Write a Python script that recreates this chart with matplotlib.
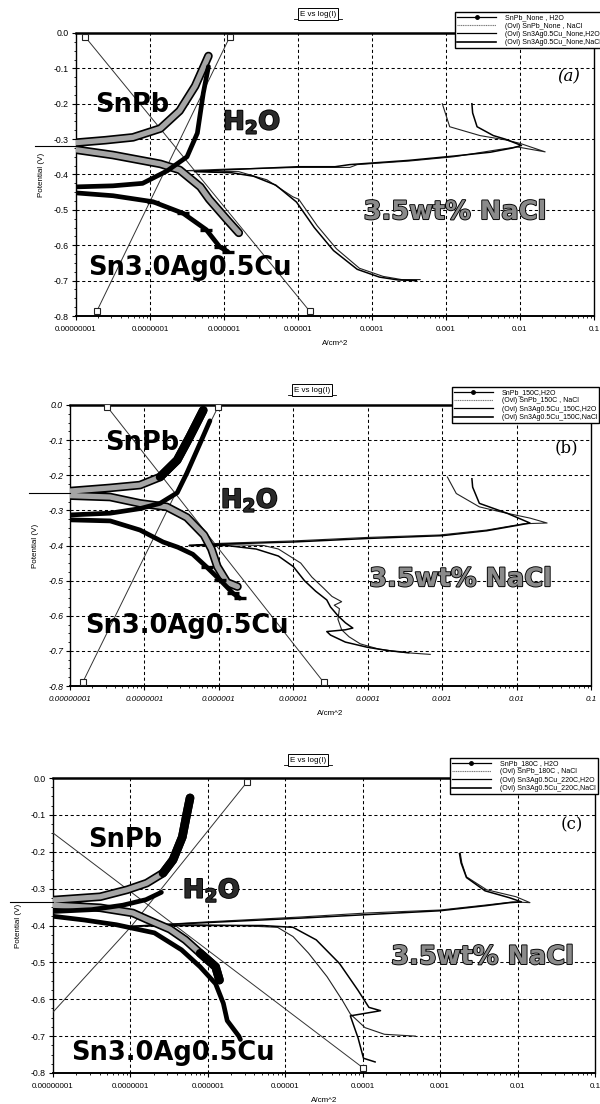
import numpy as np
import matplotlib
matplotlib.use('Agg')
from matplotlib import pyplot as plt
from matplotlib.lines import Line2D
from matplotlib.ticker import FixedLocator, LogLocator, MultipleLocator, NullFormatter
import matplotlib.patheffects as pe

plt.rcParams['font.family'] = ['Liberation Sans', 'DejaVu Sans']

# ---------------- data: log10(A/cm^2) and potential (V) ----------------
# panel (a) - as soldered
a_snpb_h2o_i = [-5.8, -5.95, -6.2, -6.32, -6.6, -6.86, -7.5, -8.0, -8.4, -8.0, -7.6, -7.23, -6.86, -6.6, -6.39, -6.21]
a_snpb_h2o_e = [-0.565, -0.53, -0.47, -0.435, -0.387, -0.37, -0.345, -0.33, -0.32, -0.31, -0.303, -0.295, -0.27, -0.22, -0.15, -0.065]
a_sac_h2o_i = [-5.95, -6.06, -6.24, -6.55, -6.96, -7.5, -8.0, -8.4, -8.0, -7.5, -7.1, -6.77, -6.5, -6.36, -6.28, -6.21]
a_sac_h2o_e = [-0.618, -0.604, -0.556, -0.51, -0.477, -0.46, -0.452, -0.445, -0.435, -0.432, -0.425, -0.39, -0.35, -0.283, -0.17, -0.095]
a_snpb_nacl_i = [-3.35, -3.6, -3.85, -4.17, -4.48, -4.74, -4.99, -5.07, -5.42, -5.8, -6.3, -6.5, -6.0, -5.0, -4.3, -4.2, -3.5,
                 -2.9, -2.3, -2.04, -1.66, -2.0, -2.2, -2.54, -2.95, -3.01, -3.05]
a_snpb_nacl_e = [-0.697, -0.697, -0.688, -0.665, -0.61, -0.545, -0.47, -0.463, -0.415, -0.392, -0.39, -0.389, -0.385, -0.38, -0.38,
                 -0.372, -0.362, -0.35, -0.33, -0.322, -0.336, -0.312, -0.302, -0.29, -0.265, -0.226, -0.2]
a_sac_nacl_i = [-3.4, -3.65, -3.9, -4.2, -4.52, -4.78, -5.02, -5.3, -5.6, -5.9, -6.4, -6.0, -5.0, -4.5, -4.3, -3.5, -2.9,
                -2.4, -2.1, -1.98, -2.2, -2.36, -2.58, -2.64, -2.65]
a_sac_nacl_e = [-0.70, -0.698, -0.69, -0.668, -0.615, -0.55, -0.478, -0.43, -0.405, -0.395, -0.392, -0.387, -0.378, -0.378,
                -0.372, -0.36, -0.348, -0.337, -0.325, -0.318, -0.3, -0.29, -0.265, -0.226, -0.2]
a_tafel1_i = [-7.88, -4.84]
a_tafel1_e = [-0.01, -0.787]
a_tafel2_i = [-7.72, -5.92]
a_tafel2_e = [-0.787, -0.01]

# panel (b) - 150C
b_snpb_h2o_i = [-5.75, -5.89, -6.02, -6.1, -6.2, -6.43, -6.7, -7.06, -7.46, -8.0, -8.4, -8.0, -7.46, -7.06, -6.79, -6.56, -6.39, -6.21]
b_snpb_h2o_e = [-0.517, -0.505, -0.46, -0.41, -0.37, -0.32, -0.29, -0.28, -0.262, -0.258, -0.25, -0.245, -0.236, -0.228, -0.205,
                -0.157, -0.09, -0.015]
b_sac_h2o_i = [-5.72, -5.81, -5.98, -6.16, -6.35, -6.55, -6.75, -7.06, -7.46, -8.0, -8.4, -8.0, -7.46, -7.06, -6.79, -6.56, -6.43,
               -6.25, -6.12]
b_sac_h2o_e = [-0.55, -0.536, -0.499, -0.462, -0.425, -0.405, -0.39, -0.356, -0.33, -0.327, -0.32, -0.313, -0.308, -0.295, -0.28,
               -0.25, -0.194, -0.108, -0.045]
b_snpb_nacl_i = [-3.16, -3.5, -3.85, -4.1, -4.25, -4.35, -4.4, -4.38, -4.45, -4.35, -4.48, -4.6, -4.75, -4.9, -5.05, -5.2, -5.4,
                 -5.8, -6.3, -6.0, -5.0, -4.0, -3.03, -2.4, -1.9, -1.59, -1.82, -2.2, -2.5, -2.81, -2.93]
b_snpb_nacl_e = [-0.71, -0.705, -0.695, -0.68, -0.66, -0.64, -0.61, -0.58, -0.57, -0.56, -0.545, -0.52, -0.49, -0.45, -0.43, -0.41,
                 -0.40, -0.398, -0.398, -0.394, -0.387, -0.377, -0.37, -0.356, -0.338, -0.336, -0.322, -0.305, -0.29, -0.252, -0.205]
b_sac_nacl_i = [-3.45, -3.7, -4.0, -4.3, -4.5, -4.55, -4.3, -4.2, -4.3, -4.4, -4.5, -4.55, -4.7, -4.85, -5.0, -5.2, -5.5, -5.9,
                -6.4, -6.0, -5.0, -4.0, -3.0, -2.4, -2.0, -1.82, -2.13, -2.5, -2.59, -2.6]
b_sac_nacl_e = [-0.705, -0.70, -0.69, -0.675, -0.655, -0.645, -0.64, -0.635, -0.62, -0.60, -0.575, -0.555, -0.53, -0.50, -0.46,
                -0.43, -0.41, -0.40, -0.40, -0.396, -0.39, -0.38, -0.372, -0.358, -0.343, -0.336, -0.308, -0.28, -0.234, -0.21]
b_tafel1_i = [-7.5, -4.59]
b_tafel1_e = [-0.005, -0.79]
b_tafel2_i = [-7.83, -6.01]
b_tafel2_e = [-0.79, -0.005]

# panel (c) - 180C / 220C
c_snpb_h2o_i = [-5.85, -5.9, -6.1, -6.29, -6.49, -6.79, -6.97, -7.39, -8.0, -8.4, -8.0, -7.39, -7.04, -6.79, -6.58, -6.45, -6.33,
                -6.27, -6.23]
c_snpb_h2o_e = [-0.548, -0.512, -0.475, -0.439, -0.41, -0.383, -0.366, -0.352, -0.345, -0.338, -0.331, -0.322, -0.303, -0.285,
                -0.258, -0.222, -0.16, -0.095, -0.054]
c_sac_h2o_i = [-5.58, -5.6, -5.75, -5.8, -5.9, -6.1, -6.34, -6.69, -7.18, -7.6, -8.0, -8.4, -8.0, -7.5, -7.1, -6.8, -6.6]
c_sac_h2o_e = [-0.709, -0.70, -0.658, -0.611, -0.558, -0.512, -0.466, -0.42, -0.398, -0.385, -0.375, -0.365, -0.362, -0.357,
               -0.345, -0.33, -0.31]
c_snpb_nacl_i = [-3.32, -3.72, -3.97, -4.16, -4.26, -4.46, -4.7, -4.9, -5.1, -5.6, -6.2, -6.8, -6.0, -4.81, -3.94, -3.0, -2.39,
                 -2.06, -1.84, -2.02, -2.4, -2.66, -2.72, -2.74]
c_snpb_nacl_e = [-0.70, -0.695, -0.677, -0.64, -0.604, -0.539, -0.475, -0.43, -0.405, -0.40, -0.398, -0.40, -0.39, -0.377, -0.366,
                 -0.358, -0.344, -0.336, -0.338, -0.322, -0.303, -0.268, -0.23, -0.204]
c_sac_nacl_i = [-3.84, -3.99, -4.06, -4.16, -3.85, -3.77, -3.92, -4.06, -4.3, -4.6, -4.9, -5.3, -6.2, -7.0, -6.0, -4.8, -3.9,
                -3.0, -2.4, -2.1, -1.95, -2.1, -2.42, -2.66, -2.73, -2.75]
c_sac_nacl_e = [-0.77, -0.76, -0.705, -0.645, -0.634, -0.631, -0.622, -0.576, -0.503, -0.439, -0.405, -0.40, -0.40, -0.402,
                -0.392, -0.38, -0.37, -0.36, -0.346, -0.338, -0.336, -0.325, -0.306, -0.27, -0.23, -0.205]
c_tafel1_i = [-8.0, -3.99]
c_tafel1_e = [-0.149, -0.787]
c_tafel2_i = [-8.0, -7.0, -5.49]
c_tafel2_e = [-0.635, -0.405, -0.01]

# corrosion-potential leader running left of the axis
tail_i = [-8.55, -8.0]
tail_e = [-0.32, -0.25, -0.336]

legend_a = ['SnPb_None , H2O', '(Ovl) SnPb_None , NaCl', '(Ovl) Sn3Ag0.5Cu_None,H2O', '(Ovl) Sn3Ag0.5Cu_None,NaCl']
legend_b = ['SnPb_150C,H2O', '(Ovl) SnPb_150C , NaCl', '(Ovl) Sn3Ag0.5Cu_150C,H2O', '(Ovl) Sn3Ag0.5Cu_150C,NaCl']
legend_c = ['SnPb_180C , H2O', '(Ovl) SnPb_180C , NaCl', '(Ovl) Sn3Ag0.5Cu_220C,H2O', '(Ovl) Sn3Ag0.5Cu_220C,NaCl']

xtick_vals = [1e-8, 1e-7, 1e-6, 1e-5, 1e-4, 1e-3, 1e-2, 1e-1]
xtick_labels = ['0.00000001', '0.0000001', '0.000001', '0.00001', '0.0001', '0.001', '0.01', '0.1']
ytick_vals = [0.0, -0.1, -0.2, -0.3, -0.4, -0.5, -0.6, -0.7, -0.8]
ytick_labels = ['0.0', '-0.1', '-0.2', '-0.3', '-0.4', '-0.5', '-0.6', '-0.7', '-0.8']


def cur(logi):
    return 10.0 ** np.asarray(logi, dtype=float)


W, H = 600, 1104
fig = plt.figure(figsize=(6.0, 11.04), dpi=100)

# pixel boxes of the three plot areas: left, top, right, bottom
boxes = [(76, 33, 594, 316), (70, 405, 591, 686), (53, 778, 595, 1073)]

panels = [
    dict(snpb_h2o=(a_snpb_h2o_i, a_snpb_h2o_e), sac_h2o=(a_sac_h2o_i, a_sac_h2o_e),
         snpb_nacl=(a_snpb_nacl_i, a_snpb_nacl_e), sac_nacl=(a_sac_nacl_i, a_sac_nacl_e),
         tafel=[(a_tafel1_i, a_tafel1_e, [0, 1]), (a_tafel2_i, a_tafel2_e, [0, 1])],
         legend=legend_a, tag='(a)', tag_style='italic', tick_style='normal',
         dense_above=0.5, dense_below=-1.0,
         snpb_pos=(0.108, 0.746), h2o_pos=(0.34, 0.686), nacl_pos=(0.732, 0.367), sac_pos=(0.22, 0.17),
         tag_pos=(0.952, 0.845), leg_anchor=(0.732, 1.074), title_xy=(318, 14)),
    dict(snpb_h2o=(b_snpb_h2o_i, b_snpb_h2o_e), sac_h2o=(b_sac_h2o_i, b_sac_h2o_e),
         snpb_nacl=(b_snpb_nacl_i, b_snpb_nacl_e), sac_nacl=(b_sac_nacl_i, b_sac_nacl_e),
         tafel=[(b_tafel1_i, b_tafel1_e, [0, 1]), (b_tafel2_i, b_tafel2_e, [0, 1])],
         legend=legend_b, tag='(b)', tag_style='normal', tick_style='italic',
         dense_above=-0.225, dense_below=-1.0,
         snpb_pos=(0.138, 0.865), h2o_pos=(0.345, 0.662), nacl_pos=(0.75, 0.38), sac_pos=(0.225, 0.214),
         tag_pos=(0.952, 0.847), leg_anchor=(0.733, 1.064), title_xy=(312, 390)),
    dict(snpb_h2o=(c_snpb_h2o_i, c_snpb_h2o_e), sac_h2o=(c_sac_h2o_i, c_sac_h2o_e),
         snpb_nacl=(c_snpb_nacl_i, c_snpb_nacl_e), sac_nacl=(c_sac_nacl_i, c_sac_nacl_e),
         tafel=[(c_tafel1_i, c_tafel1_e, [1]), (c_tafel2_i, c_tafel2_e, [2])],
         legend=legend_c, tag='(c)', tag_style='normal', tick_style='normal',
         dense_above=-0.27, dense_below=-0.46,
         snpb_pos=(0.133, 0.79), h2o_pos=(0.293, 0.62), nacl_pos=(0.793, 0.393), sac_pos=(0.221, 0.068),
         tag_pos=(0.957, 0.84), leg_anchor=(0.732, 1.068), title_xy=(308, 760)),
]

outline = [pe.Stroke(linewidth=1.3, foreground='black'), pe.Normal()]

for k, (p, box) in enumerate(zip(panels, boxes)):
    l, t, r, b = box
    ax = fig.add_axes([l / W, 1 - b / H, (r - l) / W, (b - t) / H])
    ax.set_xscale('log')
    ax.set_xlim(1e-8, 1e-1)
    ax.set_ylim(-0.8, 0.0)

    # grid
    for xv in xtick_vals[1:-1]:
        ax.axvline(xv, color='black', lw=0.75, ls=(0, (3, 2.5)), zorder=1)
    for yv in ytick_vals[1:-1]:
        ax.axhline(yv, color='black', lw=0.75, ls=(0, (3, 2.5)), zorder=1)

    # Tafel fit lines
    for ti, te, marks in p['tafel']:
        ax.plot(cur(ti), te, color='#333333', lw=0.7, marker='s', ms=5, mfc='white', mec='#222222',
                mew=0.8, markevery=marks, zorder=3)

    # NaCl curves
    xi, ye = p['snpb_nacl']
    ax.plot(cur(xi), ye, color='#222222', lw=0.8, zorder=3)
    xi, ye = p['sac_nacl']
    ax.plot(cur(xi), ye, color='black', lw=1.1, zorder=3)

    # SnPb in water: grey band with dark edge
    xi, ye = p['snpb_h2o']
    x = cur(xi)
    y = np.asarray(ye)
    ax.plot(x, y, color='black', lw=6.2, solid_capstyle='round', solid_joinstyle='round', zorder=4)
    ax.plot(x, y, color='#a5a5a5', lw=3.8, solid_capstyle='round', solid_joinstyle='round', zorder=5)
    dense = (y > p['dense_above']) | (y < p['dense_below'])
    ax.plot(np.where(dense, x, np.nan), y, color='black', lw=6.2, solid_capstyle='round', zorder=6)

    # Sn3.0Ag0.5Cu in water: solid black
    xi, ye = p['sac_h2o']
    x = cur(xi)
    y = np.asarray(ye)
    ax.plot(x, y, color='black', lw=3.4, solid_capstyle='round', solid_joinstyle='round', zorder=6)
    if k < 2:
        stairs = y < -0.46
        ax.plot(x[stairs], y[stairs], ls='none', marker='_', ms=9, mew=2.4, color='black', zorder=6)

    # leader line at the corrosion potential
    ax.plot(cur(tail_i), [tail_e[k], tail_e[k]], color='black', lw=0.8, clip_on=False, zorder=7)

    # ticks
    ax.xaxis.set_major_locator(FixedLocator(xtick_vals))
    ax.set_xticklabels(xtick_labels, fontsize=5.8, style=p['tick_style'])
    ax.xaxis.set_minor_locator(LogLocator(base=10, subs=np.arange(2, 10), numticks=20))
    ax.xaxis.set_minor_formatter(NullFormatter())
    ax.yaxis.set_major_locator(FixedLocator(ytick_vals))
    ax.set_yticklabels(ytick_labels, fontsize=6.3, style=p['tick_style'])
    ax.yaxis.set_minor_locator(MultipleLocator(0.025))
    ax.tick_params(which='major', length=3, width=0.8, pad=2, top=False, right=False)
    ax.tick_params(which='minor', length=1.5, width=0.6, top=False, right=False)
    ax.tick_params(axis='x', which='major', pad=4)

    ax.spines['top'].set_linewidth(1.8)
    ax.spines['bottom'].set_linewidth(1.4)
    ax.spines['left'].set_linewidth(1.0)
    ax.spines['right'].set_linewidth(1.0)

    ax.set_xlabel('A/cm^2', fontsize=5.8, labelpad=5)
    ax.set_ylabel('Potential (V)', fontsize=5.8)
    ax.yaxis.set_label_coords(-31.0 / (r - l), 0.5)

    # big annotations
    big = dict(transform=ax.transAxes, ha='center', va='center', fontsize=18.5,
               fontweight='bold', family='DejaVu Sans', zorder=9)
    ax.text(*p['snpb_pos'], 'SnPb', color='black', **big)
    ax.text(*p['h2o_pos'], r'H$_\mathbf{2}$O', color='#2a2a2a', path_effects=outline, **big)
    ax.text(*p['nacl_pos'], '3.5wt% NaCl', color='#8a8a8a', path_effects=outline, **big)
    ax.text(*p['sac_pos'], 'Sn3.0Ag0.5Cu', color='black', **big)

    ax.text(*p['tag_pos'], p['tag'], transform=ax.transAxes, ha='center', va='center',
            fontsize=12, family='DejaVu Serif', style=p['tag_style'], zorder=9)

    # legend
    handles = [
        Line2D([], [], color='black', lw=0.9, marker='o', ms=2.5, markevery=[1]),
        Line2D([], [], color='#777777', lw=0.8, ls=(0, (1, 0.6))),
        Line2D([], [], color='black', lw=0.9),
        Line2D([], [], color='black', lw=1.2),
    ]
    for h in handles:
        h.set_xdata([0, 0.5, 1])
        h.set_ydata([0, 0, 0])
    leg = ax.legend(handles, p['legend'], loc='upper left', bbox_to_anchor=p['leg_anchor'],
                    borderaxespad=0, fontsize=5.0, frameon=True, fancybox=False, framealpha=1,
                    edgecolor='black', handlelength=5.6, handletextpad=1.3, labelspacing=0.2,
                    borderpad=0.3)
    leg.get_frame().set_linewidth(1.0)
    leg.set_zorder(20)

    # chart title
    tx, ty = p['title_xy']
    fig.text(tx / W, 1 - ty / H, 'E vs log(I)', ha='center', va='center', fontsize=5.8,
             bbox=dict(boxstyle='square,pad=0.25', fc='white', ec='black', lw=0.7))
    fig.add_artist(Line2D([(tx - 24) / W, (tx + 24) / W], [1 - (ty + 5) / H, 1 - (ty + 5) / H],
                          color='black', lw=0.6))

fig.savefig('out.png', dpi=100)
